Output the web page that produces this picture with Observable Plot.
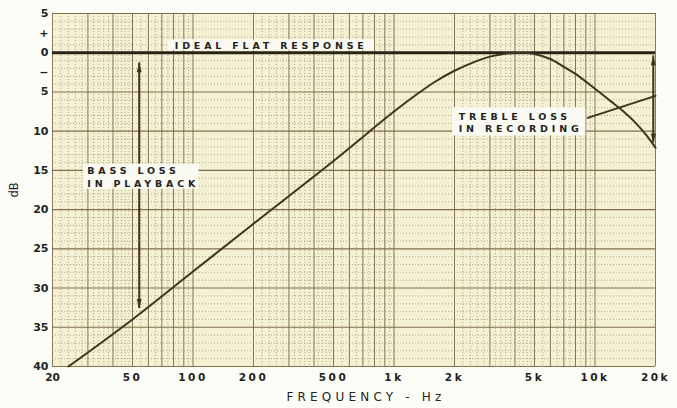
<!DOCTYPE html>
<html>
<head>
<meta charset="utf-8">
<script src="https://cdn.jsdelivr.net/npm/d3@7"></script>
<script src="https://cdn.jsdelivr.net/npm/@observablehq/plot@0.6"></script>
<style>
  html, body { margin: 0; padding: 0; background: #fdfdf8; }
  #chart svg { display: block; font-family: "DejaVu Sans", sans-serif; }
</style>
</head>
<body>
<div id="chart"></div>
<script>
// ---- data ----
const curveFreq = [24, 50, 100, 200, 500, 1000, 1300, 1600, 2000, 2500, 3000, 3500, 4000, 4500, 5000, 6000, 7000, 8000, 10000, 12000, 13500, 16000, 18000, 20000];
const curveDb   = [-40, -34, -27.9, -21.8, -13.8, -7.5, -5.3, -3.7, -2.3, -1.2, -0.5, -0.15, -0.02, 0, -0.15, -0.8, -1.8, -2.7, -4.6, -6.2, -7.25, -9.0, -10.5, -12.1];

const xTicks = [20, 50, 100, 200, 500, 1000, 2000, 5000, 10000, 20000];
const xTickLabels = ["20", "50", "100", "200", "500", "1k", "2k", "5k", "10k", "20k"];
const yTicks = [5, 2.5, 0, -2.5, -5, -10, -15, -20, -25, -30, -35, -40];
const yTickLabels = ["5", "+", "0", "−", "5", "10", "15", "20", "25", "30", "35", "40"];

const xTitle = "FREQUENCY - Hz";
const yTitle = "dB";

// annotation texts and their places (data units)
const centerNote = "IDEAL FLAT RESPONSE";
const centerNoteX = 245;
const centerNoteY = 0.92;
const leftNotes = ["BASS LOSS\nIN PLAYBACK", "TREBLE LOSS\nIN RECORDING"];
const leftNoteX = [29.8, 2100];
const leftNoteY = [-15.8, -8.8];
const boxX1 = [75, 28.5, 1960];
const boxX2 = [800, 107, 9000];
const boxY1 = [1.65, -14.2, -7.0];
const boxY2 = [0.25, -17.4, -10.6];

// double-headed arrows: x, top, bottom
const arrowX = [54, 19500];
const arrowTop = [-1.3, -0.4];
const arrowBottom = [-32.6, -11.5];

// leader from treble box to arrow
const leaderX = [9200, 20000];
const leaderY = [-8.3, -5.5];

// graph-paper rulings
const gridMajorX = [];
const gridMinorX = [];
for (const dec of [10, 100, 1000]) {
  for (let m = 2; m <= 10; m++) gridMajorX.push(m * dec);
  for (let m = 2; m < 5; m += 0.2) if (Math.abs(m - Math.round(m)) > 1e-6) gridMinorX.push(m * dec);
  for (let m = 5; m < 10; m += 0.5) if (Math.abs(m - Math.round(m)) > 1e-6) gridMinorX.push(m * dec);
}
gridMajorX.push(20000);
const gridMajorY = d3.range(5, -40.5, -5);
const gridMinorY = d3.range(5, -40.5, -1).filter(v => v % 5 !== 0);

// ---- chart ----
const curve = curveFreq.map((f, i) => ({f, db: curveDb[i]}));
const lnotes = leftNotes.map((t, i) => ({t, x: leftNoteX[i], y: leftNoteY[i]}));
const boxes = boxX1.map((x1, i) => ({x1, x2: boxX2[i], y1: boxY1[i], y2: boxY2[i]}));
const arrows = arrowX.map((x, i) => ({x, top: arrowTop[i], bottom: arrowBottom[i]}));
const yLabelMap = new Map(yTicks.map((v, i) => [v, yTickLabels[i]]));
const xLabels = xTicks.map((v, i) => ({v, t: xTickLabels[i]}));

const headUp = {draw(ctx, size) { const r = Math.sqrt(size / Math.PI); ctx.moveTo(0, 0); ctx.lineTo(r * 0.55, r * 2.1); ctx.lineTo(-r * 0.55, r * 2.1); ctx.closePath(); }};
const headDown = {draw(ctx, size) { const r = Math.sqrt(size / Math.PI); ctx.moveTo(0, 0); ctx.lineTo(r * 0.55, -r * 2.1); ctx.lineTo(-r * 0.55, -r * 2.1); ctx.closePath(); }};

const ink = "#3f3320";
const gridCol = "#76623c";

const chart = Plot.plot({
  width: 677,
  height: 408,
  marginLeft: 52,
  marginRight: 22,
  marginTop: 13,
  marginBottom: 42,
  style: {background: "transparent", fontFamily: "DejaVu Sans, sans-serif"},
  x: {type: "log", domain: [20, 20000], axis: null},
  y: {domain: [-40, 5]},
  marks: [
    Plot.frame({fill: "#f3f0d3", stroke: "none"}),
    Plot.ruleX(gridMinorX, {stroke: gridCol, strokeOpacity: 0.65, strokeWidth: 0.8, strokeDasharray: "1,2"}),
    Plot.ruleY(gridMinorY, {stroke: gridCol, strokeOpacity: 0.65, strokeWidth: 0.8, strokeDasharray: "1,2"}),
    Plot.ruleX(gridMajorX, {stroke: gridCol, strokeOpacity: 0.85, strokeWidth: 1}),
    Plot.ruleY(gridMajorY, {stroke: gridCol, strokeOpacity: 0.9, strokeWidth: 1.1}),
    Plot.ruleY([0], {stroke: "#2a2416", strokeWidth: 3}),
    Plot.line(curve, {x: "f", y: "db", stroke: ink, strokeWidth: 2, curve: "catmull-rom"}),
    Plot.ruleX(arrows, {x: "x", y1: "top", y2: "bottom", stroke: ink, strokeWidth: 2}),
    Plot.dot(arrows, {x: "x", y: "top", symbol: headUp, r: 4.5, fill: ink, stroke: "none"}),
    Plot.dot(arrows, {x: "x", y: "bottom", symbol: headDown, r: 4.5, fill: ink, stroke: "none"}),
    Plot.line(leaderX.map((x, i) => ({x, y: leaderY[i]})), {x: "x", y: "y", stroke: ink, strokeWidth: 2}),
    Plot.rect(boxes, {x1: "x1", x2: "x2", y1: "y1", y2: "y2", fill: "#fcfbf3"}),
    Plot.text([centerNote], {x: centerNoteX, y: centerNoteY, textAnchor: "middle", fill: "#222", fontSize: 9.5, fontWeight: "bold"}),
    Plot.text(lnotes, {x: "x", y: "y", text: "t", textAnchor: "start", fill: "#222", fontSize: 9.5, fontWeight: "bold", lineHeight: 1.3}),
    Plot.axisY({ticks: yTicks, tickFormat: d => yLabelMap.get(d), tickSize: 0, tickPadding: 4, fontSize: 11, fontWeight: "bold", label: null, fill: "#222"}),
    Plot.text(xLabels, {x: "v", text: "t", frameAnchor: "bottom", dy: 14, fontSize: 10.5, fontWeight: "bold", fill: "#222"}),
    Plot.text([xTitle], {frameAnchor: "bottom", dy: 34, dx: 12, fontSize: 12, fill: "#222"}),
    Plot.text([yTitle], {frameAnchor: "left", dx: -38, rotate: -90, textAnchor: "middle", fontSize: 11.5, fill: "#222"})
  ]
});

const noteSet = new Set([centerNote, ...leftNotes.map(s => s.replace("\n", ""))]);
const xLabSet = new Set(xTickLabels);
d3.select(chart).selectAll("text").each(function () {
  const t = this.textContent;
  if (noteSet.has(t)) this.style.letterSpacing = "3.8px";
  else if (t === xTitle) this.style.letterSpacing = "4.2px";
  else if (xLabSet.has(t) && !yTickLabels.includes(t)) this.style.letterSpacing = "2.5px";
});
document.getElementById("chart").appendChild(chart);
</script>
</body>
</html>
